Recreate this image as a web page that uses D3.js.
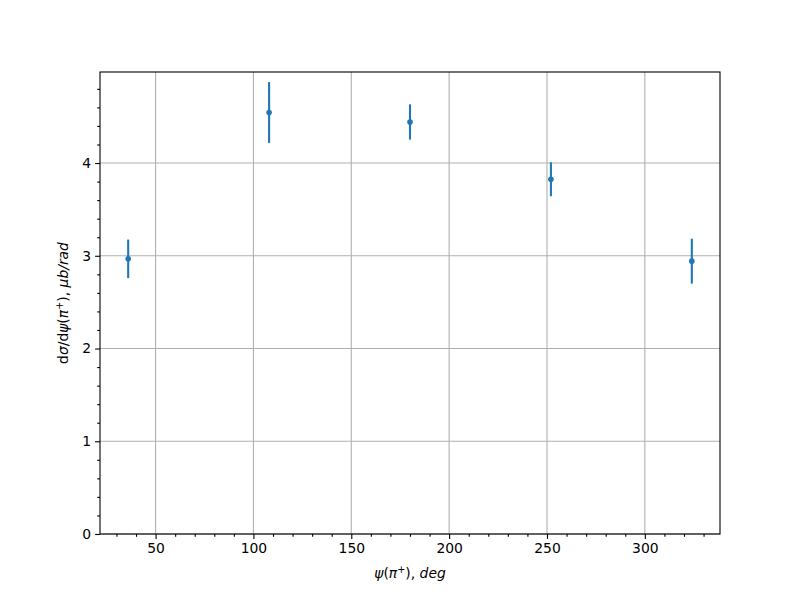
<!DOCTYPE html>
<html>
<head>
<meta charset="utf-8">
<script src="https://cdn.jsdelivr.net/npm/d3@7"></script>
<style>
body{margin:0;background:#fff;}
svg{display:block;font-family:"DejaVu Sans",sans-serif;}
</style>
</head>
<body>
<svg id="chart" width="800" height="600"></svg>
<script>
const psiDeg = [36, 108, 180, 252, 324];
const dsigma = [2.967, 4.545, 4.443, 3.825, 2.942];
const dsigmaErr = [0.208, 0.328, 0.19, 0.183, 0.242];
const xTicks = [50, 100, 150, 200, 250, 300];
const yTicks = [0, 1, 2, 3, 4];

const W = 800, H = 600;
const m = {left: 100, right: 720, top: 72, bottom: 534};
const svg = d3.select("#chart");
const color = "#1f77b4";

const xmin = d3.min(psiDeg), xmax = d3.max(psiDeg);
const xpad = 0.05 * (xmax - xmin);
const hi = d3.max(dsigma.map((v, i) => v + dsigmaErr[i]));
const lo = d3.min(dsigma.map((v, i) => v - dsigmaErr[i]));
const ytop = hi + 0.05 * (hi - lo);

const x = d3.scaleLinear().domain([xmin - xpad, xmax + xpad]).range([m.left, m.right]);
const y = d3.scaleLinear().domain([0, ytop]).range([m.bottom, m.top]);

// grid
const g = svg.append("g");
g.selectAll(".gx").data(xTicks).join("line")
  .attr("x1", d => x(d)).attr("x2", d => x(d)).attr("y1", m.top).attr("y2", m.bottom)
  .attr("stroke", "#b0b0b0").attr("stroke-width", 1.1);
g.selectAll(".gy").data(yTicks).join("line")
  .attr("y1", d => y(d)).attr("y2", d => y(d)).attr("x1", m.left).attr("x2", m.right)
  .attr("stroke", "#b0b0b0").attr("stroke-width", 1.1);

// axes
const xMinor = d3.range(30, 340, 10).filter(v => v % 50 !== 0 && v >= x.domain()[0] && v <= x.domain()[1]);
const yMinor = d3.range(0, 50).map(i => +(i * 0.2).toFixed(1)).filter(v => Math.abs(v - Math.round(v)) > 1e-6 && v <= ytop);

const xAxis = svg.append("g").attr("transform", `translate(0,${m.bottom})`)
  .call(d3.axisBottom(x).tickValues(xTicks).tickSize(4.9).tickPadding(4).tickFormat(d3.format("d")));
const xAxisMinor = svg.append("g").attr("transform", `translate(0,${m.bottom})`)
  .call(d3.axisBottom(x).tickValues(xMinor).tickSize(2.8).tickFormat(""));
const yAxis = svg.append("g").attr("transform", `translate(${m.left},0)`)
  .call(d3.axisLeft(y).tickValues(yTicks).tickSize(4.9).tickPadding(4).tickFormat(d3.format("d")));
const yAxisMinor = svg.append("g").attr("transform", `translate(${m.left},0)`)
  .call(d3.axisLeft(y).tickValues(yMinor).tickSize(2.8).tickFormat(""));
[xAxis, xAxisMinor, yAxis, yAxisMinor].forEach(a => {
  a.select(".domain").remove();
  a.selectAll("line").attr("stroke", "#000").attr("stroke-width", 1.1);
  a.selectAll("text").attr("font-size", 13.9).attr("fill", "#000").attr("font-family", "DejaVu Sans");
});

// error bars
svg.append("g").selectAll("line").data(psiDeg).join("line")
  .attr("x1", d => x(d)).attr("x2", d => x(d))
  .attr("y1", (d, i) => y(dsigma[i] - dsigmaErr[i]))
  .attr("y2", (d, i) => y(dsigma[i] + dsigmaErr[i]))
  .attr("stroke", color).attr("stroke-width", 2.1);
svg.append("g").selectAll("circle").data(psiDeg).join("circle")
  .attr("cx", d => x(d)).attr("cy", (d, i) => y(dsigma[i])).attr("r", 2.8)
  .attr("fill", color);

// frame
svg.append("rect").attr("x", m.left).attr("y", m.top)
  .attr("width", m.right - m.left).attr("height", m.bottom - m.top)
  .attr("fill", "none").attr("stroke", "#000").attr("stroke-width", 1.1);

// labels
const xl = svg.append("text").attr("x", (m.left + m.right) / 2).attr("y", 578)
  .attr("text-anchor", "middle").attr("font-size", 13.9).attr("fill", "#000");
xl.append("tspan").attr("font-style", "italic").text("ψ");
xl.append("tspan").text("(");
xl.append("tspan").attr("font-style", "italic").text("π");
xl.append("tspan").attr("font-size", 9.7).attr("dy", -5).text("+");
xl.append("tspan").attr("dy", 5).text(")");
xl.append("tspan").text(", ");
xl.append("tspan").attr("font-style", "italic").text("deg");

const yl = svg.append("text").attr("transform", `translate(68,${(m.top + m.bottom) / 2}) rotate(-90)`)
  .attr("text-anchor", "middle").attr("font-size", 13.9).attr("fill", "#000");
yl.append("tspan").text("d");
yl.append("tspan").attr("font-style", "italic").text("σ");
yl.append("tspan").text("/d");
yl.append("tspan").attr("font-style", "italic").text("ψ");
yl.append("tspan").text("(");
yl.append("tspan").attr("font-style", "italic").text("π");
yl.append("tspan").attr("font-size", 9.7).attr("dy", -5).text("+");
yl.append("tspan").attr("dy", 5).text(")");
yl.append("tspan").text(", ");
yl.append("tspan").attr("font-style", "italic").text("μb/rad");
</script>
</body>
</html>
